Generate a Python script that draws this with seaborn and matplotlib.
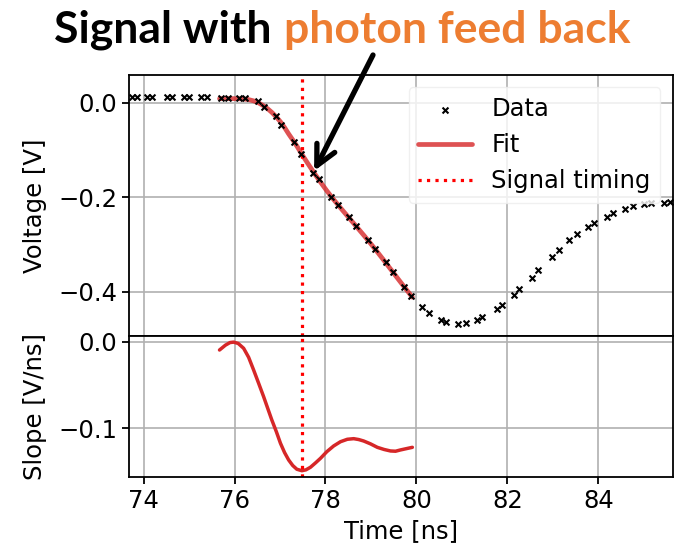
import matplotlib
matplotlib.use("Agg")
import matplotlib.pyplot as plt
import seaborn as sns

# Sampled waveform
time_ns = [73.74, 73.86, 74.08, 74.19, 74.51, 74.62, 74.88, 75.01, 75.27, 75.39,
           75.70, 75.85, 76.09, 76.24, 76.52, 76.64, 76.92, 77.03, 77.30, 77.46,
           77.72, 77.85, 78.12, 78.27, 78.51, 78.66, 78.93, 79.08, 79.32, 79.48,
           79.72, 79.89, 80.13, 80.27, 80.53, 80.66, 80.92, 81.08, 81.34, 81.45,
           81.77, 81.88, 82.15, 82.26, 82.54, 82.68, 82.97, 83.13, 83.36, 83.53,
           83.77, 83.91, 84.18, 84.33, 84.59, 84.76, 85.01, 85.15, 85.44, 85.57]
voltage_v = [0.012, 0.012, 0.012, 0.012, 0.012, 0.012, 0.012, 0.012, 0.012, 0.012,
             0.011, 0.011, 0.011, 0.010, 0.003, -0.008, -0.0275, -0.0466, -0.082, -0.108,
             -0.1475, -0.161, -0.198, -0.2165, -0.242, -0.2596, -0.290, -0.309, -0.337, -0.3577,
             -0.3888, -0.4085, -0.4324, -0.4438, -0.459, -0.464, -0.468, -0.466, -0.4585, -0.453,
             -0.4367, -0.4275, -0.406, -0.394, -0.3697, -0.354, -0.3266, -0.3118, -0.2907, -0.278,
             -0.2617, -0.2533, -0.2406, -0.2321, -0.2236, -0.218, -0.2145, -0.2123, -0.211, -0.2095]

# Fitted leading edge and its slope
fit_time_ns = [75.67, 75.80, 75.90, 75.98, 76.08, 76.20, 76.31, 76.42, 76.53, 76.64,
               76.73, 76.82, 76.92, 77.01, 77.10, 77.19, 77.28, 77.37, 77.48, 77.57,
               77.67, 77.78, 77.89, 78.03, 78.18, 78.33, 78.48, 78.62, 78.73, 78.84,
               78.99, 79.14, 79.29, 79.43, 79.54, 79.65, 79.78, 79.91]
fit_voltage_v = [0.0090, 0.0090, 0.0090, 0.0090, 0.0089, 0.0084, 0.0070, 0.0043, 0.0000, -0.0062,
                 -0.0125, -0.0200, -0.0298, -0.0400, -0.0520, -0.0656, -0.0782, -0.0912, -0.1086, -0.1220,
                 -0.1366, -0.1523, -0.1675, -0.1860, -0.2045, -0.2220, -0.2390, -0.2548, -0.2672, -0.2797,
                 -0.2972, -0.3153, -0.3338, -0.3514, -0.3653, -0.3791, -0.3952, -0.4110]
slope_v_per_ns = [-0.0096, -0.004, -0.001, -0.0005, -0.002, -0.0076, -0.018, -0.0327, -0.048, -0.0635,
                  -0.077, -0.0904, -0.104, -0.1173, -0.128, -0.1366, -0.143, -0.1473, -0.149, -0.148,
                  -0.145, -0.140, -0.1347, -0.127, -0.1204, -0.1155, -0.1127, -0.112, -0.113, -0.1147,
                  -0.118, -0.122, -0.1245, -0.1262, -0.1265, -0.125, -0.1235, -0.122]

signal_time_ns = 77.48

volt_ticks = [0.0, -0.2, -0.4]
slope_ticks = [0.0, -0.1]
time_ticks = [74, 76, 78, 80, 82, 84]

sns.set_theme(style="whitegrid", rc={
    "axes.edgecolor": "black",
    "axes.linewidth": 1.3,
    "axes.labelcolor": "black",
    "text.color": "black",
    "grid.color": "#b0b0b0",
    "grid.linewidth": 1.2,
    "xtick.bottom": True,
    "ytick.left": True,
    "xtick.color": "black",
    "ytick.color": "black",
    "xtick.major.size": 5,
    "ytick.major.size": 5,
    "xtick.major.width": 1.3,
    "ytick.major.width": 1.3,
})
plt.rcParams["font.family"] = ["DejaVu Sans"]
FS = 17.5

fig = plt.figure(figsize=(6.74, 5.5), dpi=100)
ax_top = fig.add_axes([0.1914, 0.3896, 0.8064, 0.4740])
ax_bot = fig.add_axes([0.1914, 0.1322, 0.8064, 0.2574], sharex=ax_top)

# Top panel: waveform, fit, timing marker
sns.scatterplot(x=time_ns, y=voltage_v, marker="x", color="black", s=18,
                linewidth=1.5, ax=ax_top, label="Data", zorder=3)
sns.lineplot(x=fit_time_ns, y=fit_voltage_v, color="tab:red", alpha=0.8, lw=3.4,
             ax=ax_top, label="Fit", sort=False, zorder=2)
ax_top.axvline(signal_time_ns, color="red", ls=":", lw=2.3, label="Signal timing", zorder=2.5)

ax_top.set_ylim(-0.4925, 0.059)
ax_top.set_yticks(volt_ticks)
ax_top.set_yticklabels(["0.0", "\u22120.2", "\u22120.4"], fontsize=FS)
ax_top.set_ylabel("Voltage [V]", fontsize=FS, labelpad=8)
ax_top.set_xlabel("")
ax_top.tick_params(axis="x", labelbottom=False, bottom=False)
leg = ax_top.legend(loc="upper right", fontsize=FS, framealpha=0.8, handlelength=2.2,
                    handletextpad=0.8, borderpad=0.4, labelspacing=0.5)
leg.get_frame().set_edgecolor("0.93")

# Bottom panel: slope of the fit
sns.lineplot(x=fit_time_ns, y=slope_v_per_ns, color="tab:red", lw=2.5, ax=ax_bot, sort=False)
ax_bot.axvline(signal_time_ns, color="red", ls=":", lw=2.3)
ax_bot.set_ylim(-0.1566, 0.0069)
ax_bot.set_yticks(slope_ticks)
ax_bot.set_yticklabels(["0.0", "\u22120.1"], fontsize=FS)
ax_bot.set_ylabel("Slope [V/ns]", fontsize=FS, labelpad=8)
ax_bot.set_xlim(73.68, 85.63)
ax_bot.set_xticks(time_ticks)
ax_bot.set_xticklabels([str(t) for t in time_ticks], fontsize=FS)
ax_bot.set_xlabel("Time [ns]", fontsize=FS)

for ax in (ax_top, ax_bot):
    for sp in ax.spines.values():
        sp.set_color("black")
        sp.set_linewidth(1.3)

fig.align_ylabels([ax_top, ax_bot])

# Headline
title_y = 1 - 43 / 550
fig.text(54 / 674, title_y, "Signal with", fontsize=32, fontweight="bold",
         family=["Lato", "DejaVu Sans"], color="black", va="baseline", ha="left")
fig.text(284 / 674, title_y, "photon feed back", fontsize=32, fontweight="bold",
         family=["Lato", "DejaVu Sans"], color="#ED7D31", va="baseline", ha="left")

ax_top.annotate("", xy=(77.75, -0.144), xycoords="data",
                xytext=(373 / 674, 1 - 55 / 550), textcoords="figure fraction",
                arrowprops=dict(arrowstyle="->", lw=3.8, color="black", mutation_scale=36,
                                shrinkA=0, shrinkB=0),
                annotation_clip=False)

fig.savefig("out.png", dpi=100)
